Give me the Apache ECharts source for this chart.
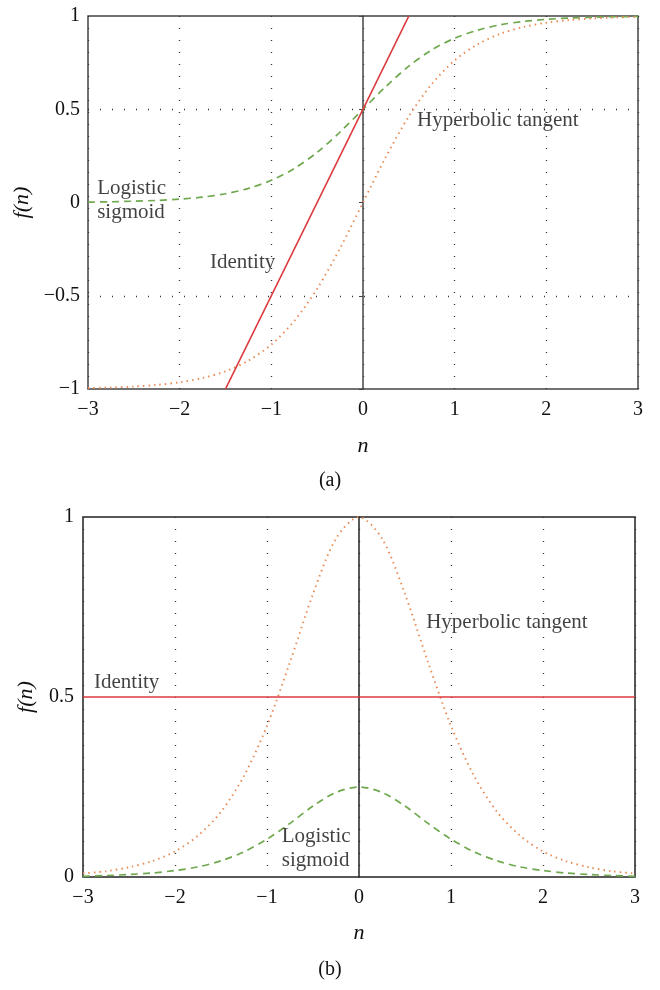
<!DOCTYPE html>
<html>
<head>
<meta charset="utf-8">
<script src="https://cdn.jsdelivr.net/npm/echarts@6/dist/echarts.min.js"></script>
<style>
  html, body { margin: 0; padding: 0; background: #fff; }
  #chart { width: 660px; height: 990px; }
</style>
</head>
<body>
<div id="chart"></div>
<script>
// sample positions along n
const nValues = [-3, -2.75, -2.5, -2.25, -2, -1.75, -1.5, -1.25, -1, -0.75, -0.5, -0.25, 0,
  0.25, 0.5, 0.75, 1, 1.25, 1.5, 1.75, 2, 2.25, 2.5, 2.75, 3];

// (a) activation functions
const logisticA = [0.002, 0.004, 0.007, 0.011, 0.018, 0.029, 0.047, 0.076, 0.119, 0.182, 0.269, 0.378, 0.5,
  0.622, 0.731, 0.818, 0.881, 0.924, 0.953, 0.971, 0.982, 0.989, 0.993, 0.996, 0.998];
const tanhA = [-0.995, -0.992, -0.987, -0.978, -0.964, -0.941, -0.905, -0.848, -0.762, -0.635, -0.462, -0.245, 0,
  0.245, 0.462, 0.635, 0.762, 0.848, 0.905, 0.941, 0.964, 0.978, 0.987, 0.992, 0.995];
const identityAN = [-1.5, 0.5];
const identityA = [-1, 1];

// (b) derivatives
const logisticB = [0.002, 0.004, 0.007, 0.011, 0.018, 0.028, 0.045, 0.070, 0.105, 0.149, 0.197, 0.235, 0.25,
  0.235, 0.197, 0.149, 0.105, 0.070, 0.045, 0.028, 0.018, 0.011, 0.007, 0.004, 0.002];
const tanhB = [0.010, 0.016, 0.027, 0.044, 0.071, 0.115, 0.181, 0.281, 0.420, 0.597, 0.786, 0.940, 1,
  0.940, 0.786, 0.597, 0.420, 0.281, 0.181, 0.115, 0.071, 0.044, 0.027, 0.016, 0.010];
const identityBN = [-3, 3];
const identityB = [0.5, 0.5];

// text annotations [label, n, f(n)]
const notesA = [['Logistic\nsigmoid', -2.9, 0.01], ['Identity', -1.67, -0.32], ['Hyperbolic tangent', 0.59, 0.44]];
const notesB = [['Identity', -2.88, 0.54], ['Hyperbolic tangent', 0.73, 0.706], ['Logistic\nsigmoid', -0.84, 0.078]];

const FONT = '"Liberation Serif", "DejaVu Serif", serif';
const INK = '#111';
const RED = '#dc3a3e', GREEN = '#6fa84e', ORANGE = '#e98a55';
const zip = (xs, ys) => xs.map((x, i) => [x, ys[i]]);
const minus = v => String(v).replace('-', '\u2212');

const chart = echarts.init(document.getElementById('chart'));

function xAxisFor(gridIndex, gap) {
  return {
    type: 'value', gridIndex, min: -3, max: 3, interval: 1,
    name: 'n', nameLocation: 'middle', nameGap: gap,
    nameTextStyle: { fontFamily: FONT, fontSize: 22, fontStyle: 'italic', color: INK },
    axisLine: { show: false, onZero: false },
    axisTick: { show: false },
    axisLabel: { fontFamily: FONT, fontSize: 20, color: INK, margin: 11, formatter: minus },
    splitLine: { show: true, lineStyle: { color: '#333', type: [1, 11], width: 1.3 } }
  };
}

function lineSeries(name, data, color, type, axisIdx, smooth) {
  return {
    name, type: 'line', xAxisIndex: axisIdx, yAxisIndex: axisIdx * 2,
    data, showSymbol: false, smooth: smooth ? 0.3 : false, z: type === 'solid' ? 4 : 3,
    lineStyle: { color, width: type === 'dotted' ? 1.9 : 1.7, type: type === 'dotted' ? [1.5, 4] : type === 'dashed' ? [7, 5] : 'solid' }
  };
}

function noteSeries(notes, axisIdx) {
  return {
    type: 'scatter', xAxisIndex: axisIdx, yAxisIndex: axisIdx * 2, symbolSize: 0, z: 5,
    data: notes.map(t => ({ name: t[0], value: [t[1], t[2]] })),
    label: { show: true, position: 'right', distance: 0, formatter: '{b}',
      fontFamily: FONT, fontSize: 21, lineHeight: 24, color: INK }
  };
}

chart.setOption({
  animation: false,
  title: [
    { text: '(a)', left: 'center', top: 466, textStyle: { fontFamily: FONT, fontSize: 20, fontWeight: 'normal', color: INK } },
    { text: '(b)', left: 'center', top: 955, textStyle: { fontFamily: FONT, fontSize: 20, fontWeight: 'normal', color: INK } }
  ],
  grid: [
    { left: 88, top: 16, width: 550, height: 373, show: true, borderColor: '#444', borderWidth: 1.5, backgroundColor: 'transparent' },
    { left: 83, top: 517, width: 552, height: 360, show: true, borderColor: '#222', borderWidth: 1.5, backgroundColor: 'transparent' }
  ],
  xAxis: [xAxisFor(0, 46), xAxisFor(1, 45)],
  yAxis: [
    {
      type: 'value', gridIndex: 0, min: -1, max: 1, interval: 0.5,
      name: 'f(n)', nameLocation: 'middle', nameGap: 53, nameRotate: 90,
      nameTextStyle: { fontFamily: FONT, fontSize: 22, fontStyle: 'italic', color: INK },
      axisLine: { show: false, onZero: false }, axisTick: { show: false },
      axisLabel: { fontFamily: FONT, fontSize: 20, color: INK, margin: 8, formatter: minus },
      splitLine: { show: true, lineStyle: { color: ['transparent', '#333', 'transparent', '#333', 'transparent'], type: [1, 11], width: 1.3 } }
    },
    {
      // vertical line through n = 0
      type: 'value', gridIndex: 0, min: -1, max: 1, interval: 0.5,
      axisLine: { show: true, onZero: true, lineStyle: { color: '#444', width: 1.5 } },
      axisTick: { show: true, inside: true, length: 4, lineStyle: { color: '#444' } },
      axisLabel: { show: false }, splitLine: { show: false }
    },
    {
      type: 'value', gridIndex: 1, min: 0, max: 1, interval: 0.5,
      name: 'f(n)', nameLocation: 'middle', nameGap: 46, nameRotate: 90,
      nameTextStyle: { fontFamily: FONT, fontSize: 22, fontStyle: 'italic', color: INK },
      axisLine: { show: false, onZero: false }, axisTick: { show: false },
      axisLabel: { fontFamily: FONT, fontSize: 20, color: INK, margin: 9 },
      splitLine: { show: false }
    },
    {
      type: 'value', gridIndex: 1, min: 0, max: 1, interval: 0.5,
      axisLine: { show: true, onZero: true, lineStyle: { color: '#222', width: 1.5 } },
      axisTick: { show: false }, axisLabel: { show: false }, splitLine: { show: false }
    }
  ],
  series: [
    lineSeries('Logistic sigmoid', zip(nValues, logisticA), GREEN, 'dashed', 0, true),
    lineSeries('Hyperbolic tangent', zip(nValues, tanhA), ORANGE, 'dotted', 0, true),
    lineSeries('Identity', zip(identityAN, identityA), RED, 'solid', 0, false),
    noteSeries(notesA, 0),
    lineSeries('Logistic sigmoid', zip(nValues, logisticB), GREEN, 'dashed', 1, true),
    lineSeries('Hyperbolic tangent', zip(nValues, tanhB), ORANGE, 'dotted', 1, true),
    lineSeries('Identity', zip(identityBN, identityB), RED, 'solid', 1, false),
    noteSeries(notesB, 1)
  ]
});
</script>
</body>
</html>
